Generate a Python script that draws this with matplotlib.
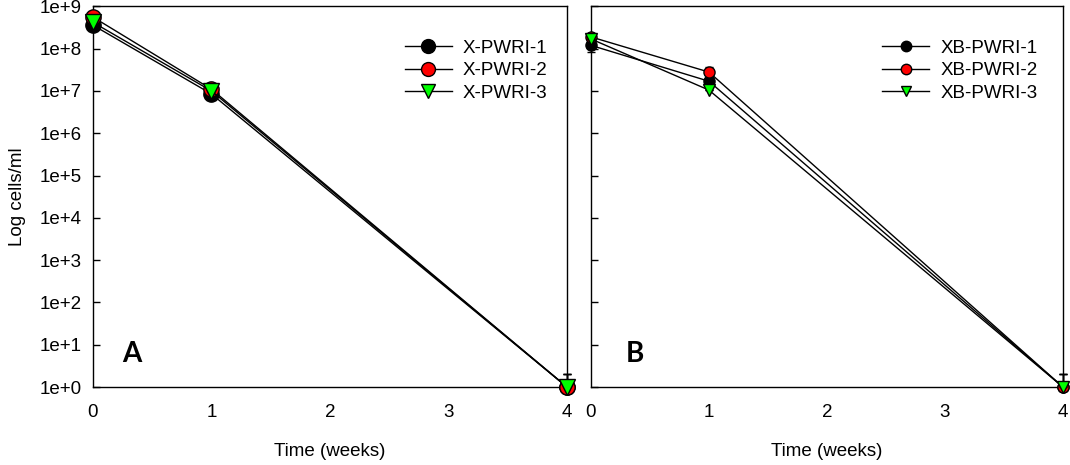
import numpy as np
import matplotlib
matplotlib.use("Agg")
import matplotlib.pyplot as plt
from matplotlib.lines import Line2D

plt.rcParams['font.family'] = ['Liberation Sans', 'DejaVu Sans']

weeks = [0, 1, 4]

# panel A
a_names = ["X-PWRI-1", "X-PWRI-2", "X-PWRI-3"]
a_vals = [[3.6e8, 8.5e6, 1.0],
          [5.6e8, 1.1e7, 1.0],
          [4.2e8, 1.0e7, 1.0]]
a_err = [[0, 0, 1.0],
         [0, 0, 1.0],
         [0, 0, 1.0]]

# panel B
b_names = ["XB-PWRI-1", "XB-PWRI-2", "XB-PWRI-3"]
b_vals = [[1.2e8, 1.7e7, 1.0],
          [1.9e8, 2.8e7, 1.0],
          [1.7e8, 1.05e7, 1.0]]
b_err = [[3.7e7, 0, 1.0],
         [0, 0.8e7, 1.0],
         [0, 0, 1.0]]

colors = ["black", "red", "#00ff00"]
markers = ["o", "o", "v"]

xticks = [0, 1, 2, 3, 4]
yticks = [10.0 ** k for k in range(10)]
ylabels = ["1e+%d" % k for k in range(10)]

fs = 13.5
fig = plt.figure(figsize=(10.7, 4.65), dpi=100)
axA = fig.add_axes([0.0869, 0.1677, 0.443, 0.8185])
axB = fig.add_axes([0.5523, 0.1677, 0.4411, 0.8185])


def draw(ax, names, vals, errs, ms, lms, letter, pos):
    handles = []
    for i in range(3):
        v = np.array(vals[i])
        e = np.array(errs[i])
        lower = np.where(v - e > 0, e, 0)
        ax.errorbar(weeks, v, yerr=[lower, e], color="black", lw=1,
                    capsize=3, capthick=1, elinewidth=1,
                    marker=markers[i], ms=ms, mfc=colors[i], mec="black",
                    mew=1, clip_on=False, zorder=3 + i)
        handles.append(Line2D([], [], color="black", lw=1, marker=markers[i],
                              ms=lms, mfc=colors[i], mec="black", mew=1))
    ax.set_yscale("log")
    ax.set_xlim(0, 4)
    ax.set_ylim(1, 1e9)
    ax.set_xticks(xticks)
    ax.set_xticklabels([str(t) for t in xticks], fontsize=fs)
    ax.set_yticks(yticks)
    ax.minorticks_off()
    ax.tick_params(axis="y", direction="in", length=5, width=1, pad=8)
    ax.tick_params(axis="x", length=0, pad=12)
    ax.set_xlabel("Time (weeks)", fontsize=fs, labelpad=16)
    for s in ax.spines.values():
        s.set_linewidth(1)
    ax.text(pos[0], 0.066, letter, transform=ax.transAxes, fontsize=20,
            fontweight="bold", ha="left", va="baseline",
            family=["Lato", "DejaVu Sans"])
    ax.legend(handles, names, loc="upper left", bbox_to_anchor=(pos[1], 0.912),
              frameon=False, fontsize=fs, handlelength=2.5,
              handletextpad=0.6, labelspacing=0.28, borderpad=0,
              borderaxespad=0)


draw(axA, a_names, a_vals, a_err, 11, 10, "A", (0.061, 0.658))
axA.set_yticklabels(ylabels, fontsize=fs)
axA.set_ylabel("Log cells/ml", fontsize=fs, labelpad=10)

draw(axB, b_names, b_vals, b_err, 8, 7.5, "B", (0.074, 0.617))
axB.set_yticklabels([])

fig.savefig("out.png", dpi=100)
